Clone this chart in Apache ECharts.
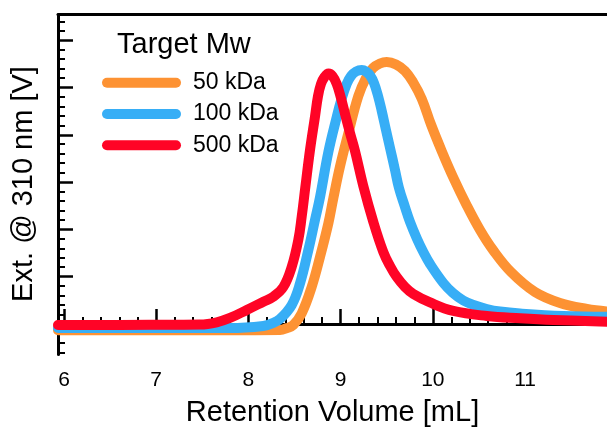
<!DOCTYPE html>
<html>
<head>
<meta charset="utf-8">
<script src="https://cdn.jsdelivr.net/npm/echarts@6/dist/echarts.min.js"></script>
<style>
  html, body { margin: 0; padding: 0; background: #fff; }
  #chart { width: 607px; height: 430px; }
</style>
</head>
<body>
<div id="chart"></div>
<script>
// GPC traces: UV extinction at 310 nm vs retention volume, one trace per target Mw
const seriesNames = ['50 kDa', '100 kDa', '500 kDa'];

// 50 kDa
const vol50 = [5.935, 7.800, 8.343, 8.419, 8.487, 8.578, 8.687, 8.777, 8.867, 8.921, 8.993, 9.084, 9.192, 9.275, 9.351, 9.427, 9.500, 9.601, 9.698, 9.785, 9.880, 9.980, 10.100, 10.219, 10.371, 10.512, 10.653, 10.848, 11.108, 11.380, 11.672, 11.889];
const ext50 = [-0.131, -0.131, -0.127, -0.085, -0.021, 0.226, 0.789, 1.423, 2.129, 2.658, 3.326, 4.032, 4.820, 5.201, 5.412, 5.507, 5.539, 5.486, 5.349, 5.116, 4.760, 4.220, 3.640, 3.108, 2.495, 1.987, 1.564, 1.099, 0.677, 0.444, 0.317, 0.264];

// 100 kDa
const vol100 = [5.935, 7.800, 8.162, 8.256, 8.343, 8.470, 8.560, 8.650, 8.722, 8.777, 8.867, 8.958, 9.004, 9.066, 9.113, 9.167, 9.229, 9.275, 9.319, 9.362, 9.406, 9.446, 9.492, 9.536, 9.590, 9.633, 9.698, 9.753, 9.829, 9.897, 9.970, 10.114, 10.219, 10.331, 10.458, 10.585, 10.729, 10.946, 11.415, 11.889];
const ext100 = [-0.085, -0.085, -0.042, 0.011, 0.106, 0.402, 0.860, 1.564, 2.199, 2.685, 3.636, 4.376, 4.715, 5.074, 5.243, 5.338, 5.370, 5.338, 5.254, 5.095, 4.820, 4.503, 4.101, 3.721, 3.256, 2.875, 2.474, 2.156, 1.797, 1.522, 1.268, 0.867, 0.655, 0.497, 0.391, 0.317, 0.264, 0.222, 0.169, 0.154];

// 500 kDa
const vol500 = [5.935, 6.933, 7.475, 7.656, 7.800, 7.982, 8.162, 8.270, 8.379, 8.470, 8.541, 8.578, 8.619, 8.668, 8.722, 8.755, 8.787, 8.825, 8.869, 8.912, 8.958, 9.004, 9.048, 9.102, 9.156, 9.246, 9.355, 9.463, 9.536, 9.608, 9.698, 9.789, 9.970, 10.222, 10.585, 10.946, 11.307, 11.889];
const ext500 = [-0.021, -0.017, -0.011, 0.036, 0.127, 0.296, 0.471, 0.577, 0.782, 1.211, 1.776, 2.268, 2.918, 3.679, 4.383, 4.820, 5.074, 5.222, 5.296, 5.243, 5.074, 4.778, 4.440, 4.038, 3.658, 2.918, 2.156, 1.522, 1.226, 0.994, 0.782, 0.634, 0.455, 0.275, 0.169, 0.121, 0.085, 0.049];

// axis ticks
const xMajorTicks = [6, 7, 8, 9, 10, 11];
const yMajorTicks = [0, 1, 2, 3, 4, 5, 6];

const X_MIN = 5.935, X_MAX = 11.889;
const Y_MIN = -0.645, Y_MAX = 6.543;

// minor ticks every fifth of a major step, skipping the majors
function minorTicks(lo, hi, step, majors) {
  const out = [];
  for (let i = Math.ceil(lo / step); i * step <= hi; i++) {
    const v = +(i * step).toFixed(3);
    if (!majors.includes(v)) out.push(v);
  }
  return out;
}
const xMinorTicks = minorTicks(X_MIN, X_MAX, 0.2, xMajorTicks);
const yMinorTicks = minorTicks(Y_MIN, Y_MAX, 0.2, yMajorTicks);

const FONT = '"Liberation Sans", Arial, Helvetica, sans-serif';
const colors = ['#FD9233', '#37AEF6', '#FF0426'];

const traces = [[vol50, ext50], [vol100, ext100], [vol500, ext500]];

const chart = echarts.init(document.getElementById('chart'), null, { renderer: 'canvas' });

const noSplit = { show: false };
chart.setOption({
  animation: false,
  backgroundColor: '#fff',
  title: {
    text: 'Target Mw',
    left: 117, top: 30, padding: 0,
    textStyle: { fontSize: 29, fontWeight: 'normal', color: '#000', fontFamily: FONT }
  },
  legend: {
    data: seriesNames,
    orient: 'vertical',
    left: 102, top: 71.2, padding: 0,
    itemGap: 8.3, itemWidth: 79, itemHeight: 10,
    icon: 'path://M5 0H74A5 5 0 0 1 74 10H5A5 5 0 0 1 5 0Z',
    textStyle: { fontSize: 23, color: '#000', fontFamily: FONT, lineHeight: 21, padding: [0, 0, 0, 7] }
  },
  graphic: [{
    type: 'text',
    x: 24, y: 184,
    rotation: Math.PI / 2,
    style: {
      text: 'Ext. @ 310 nm [V]',
      fontSize: 29, fontFamily: FONT, fill: '#000',
      align: 'center', verticalAlign: 'middle'
    }
  }],
  grid: { left: 58, right: 0, top: 14.5, bottom: 75.5, containLabel: false, outerBoundsMode: 'none' },
  xAxis: [
    {
      type: 'value', position: 'bottom', min: X_MIN, max: X_MAX,
      axisLine: { show: true, lineStyle: { color: '#000', width: 3 } },
      axisTick: { show: true, inside: true, length: 15, customValues: xMajorTicks, lineStyle: { color: '#000', width: 2.5 } },
      axisLabel: { show: true, customValues: xMajorTicks, margin: 15, fontSize: 21, color: '#000', fontFamily: FONT },
      splitLine: noSplit,
      name: 'Retention Volume [mL]', nameLocation: 'middle', nameGap: 44,
      nameTextStyle: { fontSize: 29, color: '#000', fontFamily: FONT }
    },
    {
      type: 'value', position: 'bottom', min: X_MIN, max: X_MAX,
      axisLine: { show: false },
      axisTick: { show: true, inside: true, length: 7, customValues: xMinorTicks, lineStyle: { color: '#000', width: 2 } },
      axisLabel: { show: false },
      splitLine: noSplit
    },
    {
      type: 'value', position: 'top', min: X_MIN, max: X_MAX,
      axisLine: { show: true, lineStyle: { color: '#000', width: 3 } },
      axisTick: { show: false }, axisLabel: { show: false }, splitLine: noSplit
    }
  ],
  yAxis: [
    {
      type: 'value', position: 'left', min: Y_MIN, max: Y_MAX,
      axisLine: { show: true, lineStyle: { color: '#000', width: 3 } },
      axisTick: { show: true, inside: true, length: 15, customValues: yMajorTicks, lineStyle: { color: '#000', width: 2.5 } },
      axisLabel: { show: false },
      splitLine: noSplit
    },
    {
      type: 'value', position: 'left', min: Y_MIN, max: Y_MAX,
      axisLine: { show: false },
      axisTick: { show: true, inside: true, length: 7, customValues: yMinorTicks, lineStyle: { color: '#000', width: 2 } },
      axisLabel: { show: false },
      splitLine: noSplit
    }
  ],
  series: seriesNames.map((name, i) => ({
    name: name,
    type: 'line',
    xAxisIndex: 0,
    yAxisIndex: 0,
    data: traces[i][0].map((v, j) => [v, traces[i][1][j]]),
    symbol: 'none',
    showSymbol: false,
    smooth: 0.4,
    itemStyle: { color: colors[i] },
    lineStyle: { color: colors[i], width: 10, cap: 'round', join: 'round' },
    z: 2 + i
  }))
});
</script>
</body>
</html>
